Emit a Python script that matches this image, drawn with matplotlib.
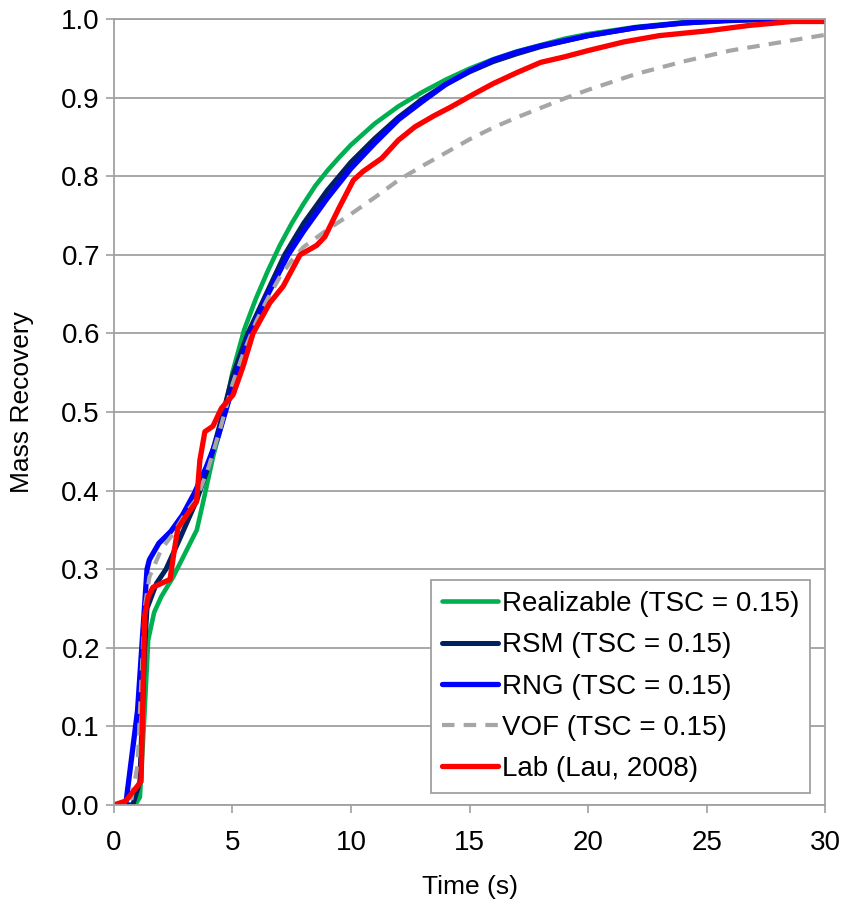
import matplotlib
matplotlib.use("Agg")
import matplotlib.pyplot as plt
from matplotlib.ticker import FormatStrFormatter

plt.rcParams["font.family"] = ["Liberation Sans", "DejaVu Sans"]

# Realizable (TSC = 0.15)
real_t = [0, 0.9, 1.1, 1.3, 1.45, 1.7, 2.0, 2.5, 3.0, 3.5, 3.8, 4.2, 4.6, 5.0, 5.5,
          6.0, 6.5, 7.0, 7.5, 8.0, 8.5, 9.0, 9.5, 10, 11, 12, 13, 14, 15, 16, 17, 18,
          19, 20, 22, 24, 26, 28, 30]
real_y = [0, 0, 0.01, 0.12, 0.21, 0.245, 0.265, 0.29, 0.32, 0.35, 0.39, 0.445, 0.49,
          0.55, 0.605, 0.645, 0.68, 0.712, 0.74, 0.765, 0.788, 0.807, 0.824, 0.84,
          0.867, 0.889, 0.907, 0.923, 0.937, 0.949, 0.959, 0.967, 0.975, 0.981,
          0.99, 0.996, 0.999, 1.0, 1.0]

# RSM (TSC = 0.15)
rsm_t = [0, 0.8, 1.1, 1.3, 1.4, 1.8, 2.2, 2.8, 3.5, 4.0, 4.6, 5.0, 5.65, 6.5, 7.2,
         8.0, 9.0, 10, 11, 12, 13, 14, 15, 16, 17, 18, 20, 22, 24, 26, 28, 30]
rsm_y = [0, 0, 0.03, 0.2, 0.25, 0.282, 0.3, 0.34, 0.388, 0.432, 0.498, 0.545, 0.6,
         0.655, 0.7, 0.74, 0.782, 0.818, 0.848, 0.875, 0.898, 0.917, 0.933, 0.946,
         0.956, 0.965, 0.979, 0.989, 0.995, 0.998, 1.0, 1.0]

# RNG (TSC = 0.15)
rng_t = [0, 0.5, 1.0, 1.4, 1.5, 1.9, 2.4, 2.9, 3.4, 3.9, 4.4, 4.9, 5.3, 5.75, 6.5,
         7.35, 8.0, 9.0, 10, 11, 12, 13, 14, 15, 16, 17, 18, 20, 22, 24, 26, 28, 30]
rng_y = [0, 0, 0.12, 0.3, 0.312, 0.333, 0.348, 0.369, 0.397, 0.43, 0.469, 0.52, 0.56,
         0.6, 0.65, 0.7, 0.73, 0.772, 0.81, 0.842, 0.872, 0.895, 0.917, 0.934, 0.948,
         0.958, 0.966, 0.979, 0.989, 0.995, 0.999, 1.0, 1.0]

# VOF (TSC = 0.15)
vof_t = [0, 0.7, 1.0, 1.3, 1.5, 2.0, 2.5, 3.0, 3.5, 4.0, 4.5, 5.0, 5.5, 6.0, 6.5,
         7.0, 7.5, 8.0, 9.0, 10, 11, 12, 13, 14, 15, 16, 17, 18, 19, 20, 22, 24,
         26, 28, 30]
vof_y = [0, 0, 0.05, 0.25, 0.29, 0.325, 0.345, 0.37, 0.39, 0.43, 0.48, 0.535, 0.578,
         0.615, 0.645, 0.672, 0.693, 0.71, 0.732, 0.752, 0.773, 0.795, 0.813, 0.83,
         0.847, 0.862, 0.875, 0.887, 0.899, 0.91, 0.93, 0.946, 0.96, 0.97, 0.98]

# Lab (Lau, 2008)
lab_t = [0, 0.5, 1.15, 1.3, 1.45, 1.65, 2.15, 2.37, 2.57, 2.7, 3.1, 3.49, 3.63, 3.84,
         4.18, 4.54, 5.03, 5.45, 5.87, 6.58, 7.14, 7.85, 8.55, 8.9, 9.5, 10.1, 10.5,
         11.3, 12.0, 12.7, 13.5, 14.2, 15.2, 16.0, 17.0, 18.0, 19.0, 20.0, 21.5, 23.0,
         25.0, 26.8, 28.6, 30.0]
lab_y = [0, 0.005, 0.03, 0.24, 0.265, 0.277, 0.284, 0.287, 0.328, 0.352, 0.37, 0.386,
         0.439, 0.475, 0.482, 0.505, 0.522, 0.558, 0.6, 0.639, 0.66, 0.70, 0.712, 0.723,
         0.76, 0.795, 0.806, 0.823, 0.846, 0.863, 0.877, 0.888, 0.905, 0.918, 0.932,
         0.945, 0.952, 0.96, 0.971, 0.979, 0.985, 0.992, 0.997, 0.997]

x_ticks = [0, 5, 10, 15, 20, 25, 30]
y_ticks = [0.0, 0.1, 0.2, 0.3, 0.4, 0.5, 0.6, 0.7, 0.8, 0.9, 1.0]

grid_col = "#a0a0a0"

fig, ax = plt.subplots(figsize=(8.43, 9.11), dpi=100)
plt.subplots_adjust(left=0.135, right=0.979, top=0.979, bottom=0.1164)

# Gridlines (horizontal only)
ax.set_axisbelow(True)
ax.yaxis.grid(True, color=grid_col, linewidth=1.3)

ax.plot(real_t, real_y, color="#00b050", linewidth=3.3, label="Realizable (TSC = 0.15)",
        solid_joinstyle="round", solid_capstyle="round")
ax.plot(rsm_t, rsm_y, color="#002060", linewidth=3.6, label="RSM (TSC = 0.15)",
        solid_joinstyle="round", solid_capstyle="round")
ax.plot(rng_t, rng_y, color="#0000ff", linewidth=3.8, label="RNG (TSC = 0.15)",
        solid_joinstyle="round", solid_capstyle="round")
ax.plot(vof_t, vof_y, color="#a6a6a6", linewidth=3.0, dashes=(3, 2.2),
        label="VOF (TSC = 0.15)")
ax.plot(lab_t, lab_y, color="#ff0000", linewidth=3.8, label="Lab (Lau, 2008)",
        solid_joinstyle="round", solid_capstyle="round")

ax.set_xlim(0, 30)
ax.set_ylim(0, 1.0)
ax.set_xticks(x_ticks)
ax.set_yticks(y_ticks)
ax.yaxis.set_major_formatter(FormatStrFormatter("%.1f"))

for side in ["left", "right", "bottom", "top"]:
    ax.spines[side].set_color(grid_col)
    ax.spines[side].set_linewidth(1.3)

ax.tick_params(axis="both", direction="out", length=6, width=1.2, color=grid_col,
               labelsize=20, labelcolor="#000000")
ax.tick_params(axis="x", pad=12)
ax.tick_params(axis="y", pad=4)

ax.set_xlabel("Time (s)", fontsize=19, labelpad=14)
ax.set_ylabel("Mass Recovery", fontsize=19)
ax.yaxis.set_label_coords(-0.112, 0.513)

leg = ax.legend(loc="lower right", bbox_to_anchor=(0.979, 0.015), fontsize=20,
                frameon=True, fancybox=False, edgecolor=grid_col, framealpha=1,
                handlelength=2.0, handletextpad=0.15, labelspacing=0.55,
                borderpad=0.4, borderaxespad=0)
leg.get_frame().set_linewidth(1.3)

fig.savefig("out.png", dpi=100)
